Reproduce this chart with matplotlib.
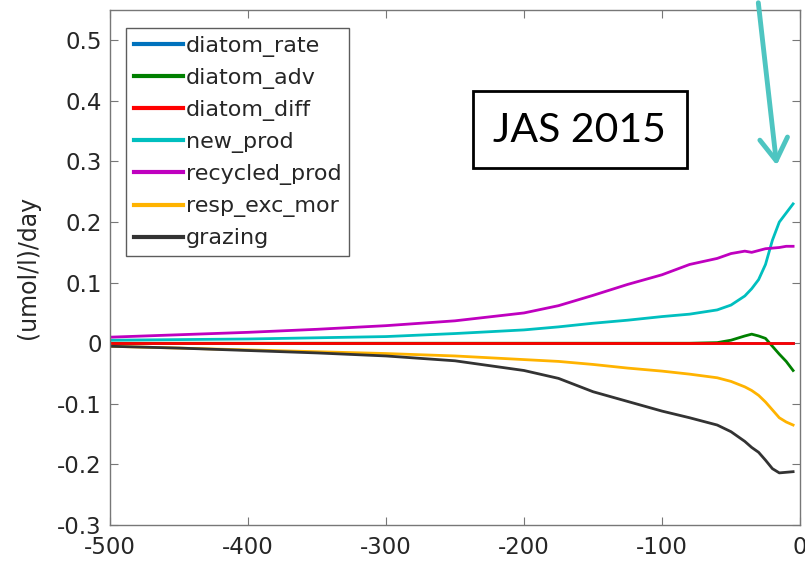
import matplotlib
matplotlib.use("Agg")
import matplotlib.pyplot as plt
from matplotlib.patches import Rectangle, FancyArrowPatch

depth = [-500, -450, -400, -350, -300, -250, -200, -175, -150, -125, -100, -80,
         -60, -50, -40, -35, -30, -25, -20, -15, -10, -5]
diatom_rate = [0.0] * len(depth)
diatom_adv = [0, 0, 0, 0, 0, 0, 0, 0, 0, 0, 0, 0,
              0.001, 0.005, 0.012, 0.015, 0.012, 0.008, -0.005, -0.018, -0.030, -0.045]
diatom_diff = [0.0] * len(depth)
new_prod = [0.005, 0.006, 0.007, 0.009, 0.011, 0.016, 0.022, 0.027, 0.033, 0.038, 0.044, 0.048,
            0.055, 0.063, 0.078, 0.090, 0.105, 0.130, 0.170, 0.200, 0.215, 0.230]
recycled_prod = [0.010, 0.014, 0.018, 0.023, 0.029, 0.037, 0.050, 0.062, 0.079, 0.097, 0.113, 0.130,
                 0.140, 0.148, 0.152, 0.150, 0.153, 0.156, 0.157, 0.158, 0.160, 0.160]
resp_exc_mor = [-0.005, -0.008, -0.011, -0.014, -0.017, -0.021, -0.027, -0.030, -0.035, -0.041, -0.046, -0.051,
                -0.057, -0.063, -0.072, -0.078, -0.086, -0.097, -0.110, -0.123, -0.130, -0.135]
grazing = [-0.005, -0.008, -0.012, -0.016, -0.021, -0.029, -0.045, -0.058, -0.080, -0.096, -0.112, -0.123,
           -0.135, -0.146, -0.162, -0.172, -0.180, -0.193, -0.207, -0.214, -0.213, -0.212]

series = [
    ("diatom_rate", diatom_rate, "#0072BD"),
    ("diatom_adv", diatom_adv, "#008000"),
    ("diatom_diff", diatom_diff, "#FF0000"),
    ("new_prod", new_prod, "#00BFBF"),
    ("recycled_prod", recycled_prod, "#BF00BF"),
    ("resp_exc_mor", resp_exc_mor, "#FFB300"),
    ("grazing", grazing, "#333333"),
]

xticks = [-500, -400, -300, -200, -100, 0]
yticks = [-0.3, -0.2, -0.1, 0, 0.1, 0.2, 0.3, 0.4, 0.5]
ytick_labels = ["-0.3", "-0.2", "-0.1", "0", "0.1", "0.2", "0.3", "0.4", "0.5"]

fig = plt.figure(figsize=(8.05, 5.66), dpi=100)
ax = fig.add_axes([110 / 805, 41 / 566, 690 / 805, 515 / 566])

for name, vals, col in series:
    ax.plot(depth, vals, color=col, lw=2.0, label=name)

ax.set_xlim(-500, 0)
ax.set_ylim(-0.3, 0.55)
ax.set_xticks(xticks)
ax.set_xticklabels([str(t) for t in xticks])
ax.set_yticks(yticks)
ax.set_yticklabels(ytick_labels)
ax.tick_params(direction="in", top=True, right=True, length=6, color="#777777",
               labelsize=16.5, labelcolor="#262626")
ax.tick_params(axis="x", pad=8)
ax.tick_params(axis="y", pad=6)
for s in ax.spines.values():
    s.set_color("#777777")
    s.set_linewidth(1.0)
ax.set_ylabel("(umol/l)/day", fontsize=17, color="#262626", labelpad=12)

leg = ax.legend(loc="upper left", bbox_to_anchor=(0.023, 0.965), borderaxespad=0,
                fontsize=16, handlelength=2.2, handletextpad=0.15, labelspacing=0.5,
                frameon=True, fancybox=False, borderpad=0.35)
leg.get_frame().set_edgecolor("#333333")
leg.get_frame().set_linewidth(1.0)
for t in leg.get_texts():
    t.set_color("#262626")
for l in leg.get_lines():
    l.set_linewidth(3)

# JAS 2015 box
fig.patches.append(Rectangle((473 / 805, 1 - 168 / 566), 214 / 805, 77 / 566,
                             transform=fig.transFigure, fill=False, edgecolor="black",
                             linewidth=2, zorder=5))
fig.text(579 / 805, 1 - 130 / 566, "JAS 2015", ha="center", va="center",
         fontsize=29.5, family="Lato", color="black")

# arrow
arr = FancyArrowPatch((758 / 805, 1.0), (777 / 805, 1 - 168 / 566), transform=fig.transFigure,
                      arrowstyle="->,head_length=16,head_width=10", color="#4EC5C1",
                      linewidth=3.5, mutation_scale=1)
fig.patches.append(arr)

fig.savefig("out.png", dpi=100)
